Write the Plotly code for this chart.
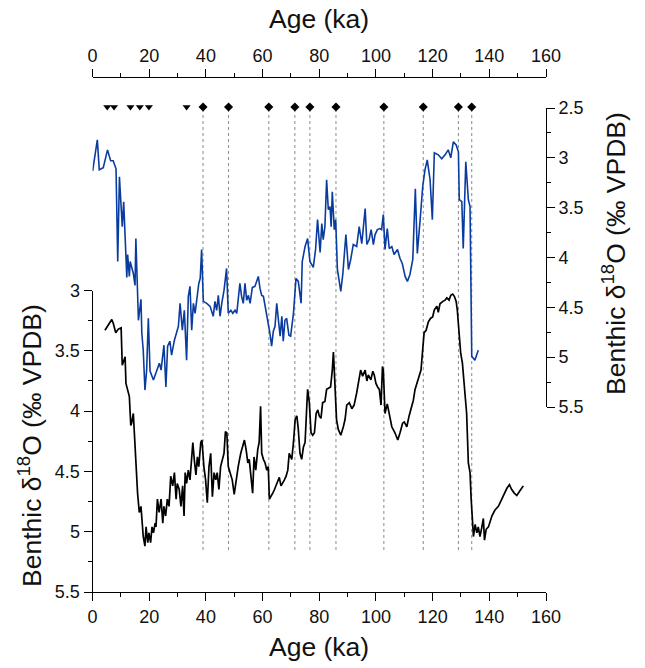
import plotly.graph_objects as go

# ---------------- data ----------------
blue_age = [0.05, 1.7, 2.4, 3.8, 5.3, 6.4, 7.3, 8.3, 8.9, 9.5, 9.9, 10.5, 11.0, 11.5, 12.1, 12.4, 13.0, 13.3,
            14.0, 14.4, 15.0, 15.3, 16.2, 17.1, 17.4, 17.9, 18.5, 19.1, 19.7, 20.3, 21.5, 22.6, 23.6, 24.2,
            25.2, 25.9, 26.5, 27.3, 27.9, 28.9, 30.3, 30.9, 31.7, 32.4, 33.2, 33.8, 34.4, 35.0, 35.6, 36.2,
            36.8, 37.5, 38.0, 38.5, 39.1, 40.3, 41.5, 42.1, 42.6, 43.2, 43.8, 44.4, 45.0, 45.6, 46.4, 47.3,
            47.9, 48.8, 49.5, 50.3, 50.9, 52.0, 52.6, 53.2, 53.8, 54.4, 55.0, 55.6, 56.4, 57.3, 57.9, 58.5,
            59.1, 59.7, 60.3, 60.9, 62.0, 62.6, 63.2, 63.8, 64.4, 65.0, 65.6, 66.2, 66.8, 67.3, 67.9, 68.5,
            69.3, 69.9, 70.9, 71.8, 72.6, 73.6, 74.0, 75.0, 75.9, 76.7, 77.9, 78.7, 79.4, 80.3, 80.9, 81.4,
            82.0, 82.6, 83.2, 83.8, 84.2, 84.6, 85.3, 85.8, 86.4, 86.9, 87.6, 88.3, 89.4, 90.3, 91.1, 92.0,
            93.2, 94.1, 95.0, 96.2, 96.8, 97.6, 98.3, 99.1, 99.7, 100.5, 101.4, 102.0, 102.6, 103.2, 104.0,
            104.7, 105.6, 106.4, 107.6, 108.5, 109.3, 110.3, 111.1, 112.0, 113.0, 113.9, 114.6, 115.6, 116.5,
            117.3, 118.1, 119.1, 119.9, 120.6, 122.0, 123.2, 124.4, 125.5, 126.4, 127.3, 128.3, 129.1, 129.4,
            130.3, 130.8, 131.7, 132.0, 132.6, 133.2, 133.8, 134.9, 136.1]
blue_d18O = [3.13, 2.82, 3.12, 3.10, 2.92, 3.03, 3.03, 3.11, 4.04, 3.19, 3.39, 3.69, 3.44, 3.72, 4.20, 3.97, 4.19, 4.04,
             4.12, 4.16, 4.28, 3.81, 4.63, 4.42, 4.76, 4.93, 5.33, 5.13, 4.61, 5.14, 5.23, 5.13, 5.06, 5.13,
             4.88, 5.30, 4.89, 4.84, 4.98, 4.83, 4.69, 4.46, 4.73, 4.53, 5.03, 4.39, 4.29, 4.73, 4.46, 4.56,
             4.43, 4.26, 4.21, 3.92, 4.44, 4.46, 4.49, 4.56, 4.59, 4.44, 4.53, 4.38, 4.59, 4.46, 4.33, 4.11,
             4.56, 4.53, 4.56, 4.53, 4.56, 4.26, 4.39, 4.46, 4.26, 4.43, 4.38, 4.46, 4.30, 4.29, 4.24, 4.19,
             4.31, 4.38, 4.39, 4.49, 4.63, 4.76, 4.89, 4.74, 4.69, 4.46, 4.63, 4.79, 4.59, 4.84, 4.63, 4.61,
             4.78, 4.79, 4.56, 4.21, 4.24, 4.46, 4.04, 3.89, 3.81, 4.04, 4.10, 3.92, 3.62, 3.95, 3.66, 3.82,
             3.69, 3.22, 3.52, 3.49, 3.69, 3.34, 3.72, 3.62, 4.12, 4.22, 4.34, 4.17, 3.77, 4.12, 4.02, 3.87,
             3.89, 3.69, 3.86, 3.51, 3.87, 3.82, 3.72, 3.87, 3.77, 3.72, 3.71, 3.72, 3.57, 3.92, 3.71,
             3.91, 3.89, 3.97, 3.92, 4.01, 4.06, 4.19, 4.24, 4.17, 4.02, 3.31, 3.96, 3.62, 3.29,
             3.12, 3.02, 3.22, 3.62, 2.95, 2.97, 3.01, 2.97, 2.92, 3.00, 2.84, 2.87, 2.94, 3.42,
             3.44, 3.91, 3.04, 3.16, 3.42, 3.49, 4.99, 5.03, 4.93]

black_age = [4.4, 5.2, 5.9, 6.8, 7.3, 8.2, 9.1, 10.1, 10.5, 11.5, 11.8, 12.4, 13.0, 13.5, 13.8, 14.4, 14.7, 15.3,
             15.9, 16.5, 17.1, 17.9, 18.5, 18.9, 19.5, 19.9, 20.5, 21.0, 21.5, 22.1, 22.4, 22.9, 23.5, 24.2,
             24.8, 25.2, 25.8, 26.4, 27.0, 27.6, 28.3, 28.9, 29.5, 29.9, 30.6, 31.2, 31.8, 32.3, 32.7, 33.2,
             33.8, 34.4, 35.0, 35.4, 35.9, 36.5, 37.0, 37.5, 38.2, 38.6, 39.3, 39.9, 40.5, 41.1, 41.7, 42.3,
             42.9, 43.5, 44.0, 44.6, 45.2, 45.8, 46.4, 46.9, 47.4, 47.9, 48.8, 49.3, 50.0, 50.6, 51.4, 52.3,
             53.0, 53.6, 54.2, 54.8, 55.3, 55.9, 56.5, 57.0, 57.6, 58.3, 58.8, 59.3, 59.7, 60.3, 60.9, 61.5,
             62.0, 62.4, 63.0, 63.6, 64.2, 64.7, 65.3, 65.9, 66.5, 67.1, 67.7, 68.3, 68.9, 69.4, 70.3, 70.9,
             71.5, 72.1, 72.6, 73.2, 73.8, 74.4, 75.0, 75.6, 75.9, 76.5, 77.1, 77.7, 78.3, 78.9, 79.5, 80.0,
             80.6, 81.2, 82.0, 82.6, 83.2, 84.0, 84.6, 85.0, 85.3, 85.8, 86.1, 86.7, 87.6, 88.5, 89.1, 89.7,
             90.6, 91.5, 92.3, 93.2, 94.1, 94.6, 95.3, 96.2, 96.8, 97.3, 98.2, 98.9, 99.4, 100.0, 100.6,
             101.2, 101.8, 102.3, 102.6, 103.2, 104.0, 105.6, 106.7, 107.7, 108.5, 109.4, 110.0, 110.9,
             111.7, 112.4, 113.2, 113.8, 114.4, 115.6, 115.9, 116.5, 117.0, 117.7, 118.5, 119.3, 120.0,
             120.6, 121.5, 122.0, 122.6, 123.6, 124.4, 125.0, 125.8, 126.4, 127.1, 127.7, 128.3, 128.7,
             129.3, 129.9, 130.5, 131.1, 131.7, 132.0, 132.6, 133.2, 133.6, 134.0, 134.4, 135.0, 135.6,
             136.1, 136.7, 137.3, 137.9, 138.3, 138.9, 139.7, 140.9, 142.0, 143.2, 144.4, 145.2, 146.2,
             147.1, 147.9, 148.8, 149.7, 150.8, 152.0]
black_d18O = [3.33, 3.30, 3.27, 3.24, 3.27, 3.35, 3.32, 3.31, 3.62, 3.55, 3.77, 3.82, 3.88, 4.12, 4.10, 4.02, 4.18, 4.40,
              4.68, 4.84, 4.79, 5.04, 5.12, 4.96, 5.09, 5.01, 5.09, 4.96, 5.01, 4.93, 4.96, 4.73, 4.84, 4.73,
              4.93, 4.79, 4.87, 4.73, 4.79, 4.54, 4.62, 4.51, 4.73, 4.60, 4.65, 4.79, 4.62, 4.87, 4.51, 4.60,
              4.49, 4.57, 4.40, 4.26, 4.40, 4.53, 4.38, 4.46, 4.26, 4.24, 4.46, 4.57, 4.76, 4.46, 4.35, 4.71,
              4.51, 4.57, 4.51, 4.65, 4.46, 4.40, 4.35, 4.17, 4.18, 4.46, 4.54, 4.57, 4.69, 4.57, 4.46, 4.35,
              4.29, 4.24, 4.32, 4.43, 4.40, 4.54, 4.68, 4.38, 4.49, 4.32, 4.26, 3.96, 4.35, 4.40, 4.43, 4.49,
              4.46, 4.73, 4.71, 4.68, 4.65, 4.62, 4.57, 4.55, 4.62, 4.60, 4.57, 4.54, 4.49, 4.35, 4.40, 4.26,
              4.07, 4.04, 4.15, 4.35, 4.40, 4.30, 4.26, 3.96, 3.82, 3.93, 4.18, 4.20, 4.18, 4.02, 3.99, 4.04,
              4.06, 3.93, 3.92, 3.82, 3.81, 3.80, 3.66, 3.51, 3.66, 3.99, 4.07, 4.15, 4.20, 4.13, 4.07, 3.95,
              3.93, 3.98, 3.95, 3.85, 3.71, 3.66, 3.71, 3.66, 3.75, 3.70, 3.74, 3.67, 3.70, 3.77, 3.80,
              3.82, 3.95, 3.63, 3.66, 4.02, 3.94, 4.13, 4.18, 4.24, 4.18, 4.10, 4.09, 4.13,
              4.04, 3.98, 3.91, 3.82, 3.77, 3.69, 3.66, 3.49, 3.35, 3.33, 3.26, 3.23, 3.22,
              3.16, 3.13, 3.18, 3.11, 3.09, 3.08, 3.06, 3.08, 3.04, 3.03, 3.05, 3.09, 3.16,
              3.38, 3.52, 3.60, 3.80, 3.93, 4.02, 4.43, 4.51, 4.73, 4.90, 5.04, 4.94, 5.01,
              4.96, 5.04, 4.97, 4.89, 5.07, 4.98, 4.96, 4.87, 4.82, 4.79, 4.73, 4.69, 4.64,
              4.61, 4.65, 4.68, 4.70, 4.66, 4.62]

tri_age = [5.2, 7.6, 13.4, 16.7, 19.9, 33.2]
dia_age = [39.0, 48.0, 62.2, 71.4, 76.7, 85.9, 102.8, 116.7, 129.1, 133.8]
x_ticks = [0, 20, 40, 60, 80, 100, 120, 140, 160]
left_ticks = [3, 3.5, 4, 4.5, 5, 5.5]
right_ticks = [2.5, 3, 3.5, 4, 4.5, 5, 5.5]

# ---------------- layout geometry ----------------
W, H = 645, 668
def px(x):
    return x / W
def py(y):
    return (H - y) / H

x_dom = [px(92.5), px(546)]
FONT = "Liberation Sans, Arial, sans-serif"
BLUE = "#0a3c9f"
TITLE_SIZE = 26.5

fig = go.Figure()
fig.add_trace(go.Scatter(x=blue_age, y=blue_d18O, mode="lines", xaxis="x", yaxis="y2",
                         line=dict(color=BLUE, width=1.6), showlegend=False))
fig.add_trace(go.Scatter(x=black_age, y=black_d18O, mode="lines", xaxis="x", yaxis="y",
                         line=dict(color="black", width=1.7), showlegend=False))
fig.add_trace(go.Scatter(x=tri_age, y=[0.5] * len(tri_age), mode="markers", xaxis="x2", yaxis="y3",
                         marker=dict(symbol="triangle-down", size=7, color="black"), showlegend=False))
fig.add_trace(go.Scatter(x=dia_age, y=[0.5] * len(dia_age), mode="markers", xaxis="x2", yaxis="y3",
                         marker=dict(symbol="diamond", size=7, color="black"), showlegend=False))

for a in dia_age:
    fig.add_shape(type="line", xref="x", yref="paper", x0=a, x1=a, y0=py(550), y1=py(111),
                  line=dict(color="#8a8a8a", width=1, dash="dot"), layer="below")

axis_common = dict(showgrid=False, zeroline=False, showline=True, linecolor="black", linewidth=1,
                   ticks="outside", tickcolor="black", tickwidth=1, ticklen=8, automargin=False,
                   tickfont=dict(family=FONT, size=18, color="#111"))

fig.update_layout(
    width=W, height=H, margin=dict(l=0, r=0, t=0, b=0),
    paper_bgcolor="white", plot_bgcolor="rgba(0,0,0,0)",
    xaxis=dict(domain=x_dom, range=[0, 160], anchor="y", tickvals=x_ticks,
               minor=dict(dtick=10, tick0=0, ticklen=4, ticks="outside", tickcolor="black"),
               **axis_common),
    xaxis2=dict(domain=x_dom, range=[0, 160], overlaying="x", anchor="free", position=py(77), side="top",
                tickvals=x_ticks,
                minor=dict(dtick=10, tick0=0, ticklen=4, ticks="outside", tickcolor="black"),
                **axis_common),
    yaxis=dict(domain=[py(592), py(290.5)], range=[5.5, 3], anchor="x", side="left", tickvals=left_ticks,
               ticktext=[str(v) for v in left_ticks],
               minor=dict(dtick=0.25, tick0=3, ticklen=4, ticks="outside", tickcolor="black"),
               **axis_common),
    yaxis2=dict(domain=[py(407), py(108)], range=[5.5, 2.5], anchor="x", side="right", tickvals=right_ticks,
                ticktext=[str(v) for v in right_ticks],
                minor=dict(dtick=0.25, tick0=2.5, ticklen=4, ticks="outside", tickcolor="black"),
                **axis_common),
    yaxis3=dict(domain=[py(117), py(97)], range=[0, 1], anchor="x2", visible=False, automargin=False),
    annotations=[
        dict(text="Age (ka)", x=(x_dom[0] + x_dom[1]) / 2, y=py(647), xref="paper", yref="paper",
             showarrow=False, font=dict(family=FONT, size=TITLE_SIZE, color="#111"),
             xanchor="center", yanchor="middle"),
        dict(text="Age (ka)", x=(x_dom[0] + x_dom[1]) / 2, y=py(19), xref="paper", yref="paper",
             showarrow=False, font=dict(family=FONT, size=TITLE_SIZE, color="#111"),
             xanchor="center", yanchor="middle"),
        dict(text="Benthic δ<sup>18</sup>O (‰ VPDB)", x=px(30), y=py(446), xref="paper", yref="paper",
             textangle=-90, showarrow=False, font=dict(family=FONT, size=TITLE_SIZE, color="#111"),
             xanchor="center", yanchor="middle"),
        dict(text="Benthic δ<sup>18</sup>O (‰ VPDB)", x=px(614), y=py(254), xref="paper", yref="paper",
             textangle=-90, showarrow=False, font=dict(family=FONT, size=TITLE_SIZE, color="#111"),
             xanchor="center", yanchor="middle"),
    ],
)

fig.write_html("out.html", config={"displayModeBar": False},
               post_script="document.body.style.margin='0px';document.body.style.overflow='hidden';")
